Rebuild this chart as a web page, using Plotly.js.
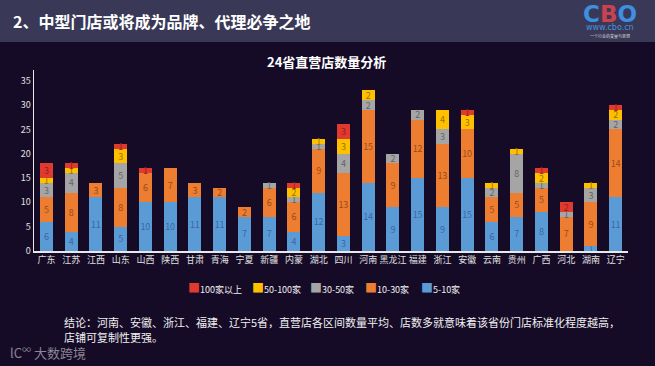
<!DOCTYPE html>
<html>
<head>
<meta charset="utf-8">
<script src="https://cdn.plot.ly/plotly-3.0.1.min.js"></script>
<style>
html,body{margin:0;padding:0;background:#160b27;}
#chart{width:655px;height:366px;}
</style>
</head>
<body>
<div id="chart"></div>
<script>
const provinces = ["广东","江苏","江西","山东","山西","陕西","甘肃","青海","宁夏","新疆","内蒙","湖北","四川","河南","黑龙江","福建","浙江","安徽","云南","贵州","广西","河北","湖南","辽宁"];
const s5to10   = [6,4,11,5,10,10,11,11,7,7,4,12,3,14,9,15,9,15,6,7,8,0,1,11];
const s10to30  = [5,8,3,8,6,7,3,2,2,6,6,9,13,15,9,12,13,10,5,5,5,7,9,14];
const s30to50  = [3,4,0,5,0,0,0,0,0,1,1,1,4,2,2,2,3,0,2,8,1,1,3,2];
const s50to100 = [1,1,0,3,0,0,0,0,0,0,2,1,3,2,0,0,4,3,1,1,2,0,1,2];
const s100plus = [3,1,0,1,1,0,0,0,0,0,1,0,3,0,0,0,0,1,0,0,1,2,0,1];
const seriesNames = ["5-10家","10-30家","30-50家","50-100家","100家以上"];

const seriesData = [s5to10, s10to30, s30to50, s50to100, s100plus];
const colors = ["#5b9bd5","#ed7d31","#a5a5a5","#ffc000","#e0392f"];
const labelColors = ["#3868a3","#9c4b17","#666666","#9a7400","#9a1d18"];

const traces = seriesData.map((vals, i) => ({
  type: "bar",
  name: seriesNames[i],
  x: provinces,
  y: vals,
  marker: {color: colors[i]},
  text: vals.map(v => v === 0 ? "" : String(v)),
  textposition: "inside",
  insidetextanchor: "middle",
  textangle: 0,
  constraintext: "none",
  textfont: {color: labelColors[i], size: 9, family: "Noto Sans CJK SC"},
  hoverinfo: "x+y+name",
  showlegend: false
}));

const px = p => (p - 34) / 594;
const py = p => (251 - p) / 181;

// legend entries (reference order: 100家以上 first)
const legendX = [186, 250, 308, 363, 419];
const legendAnn = [4,3,2,1,0].map((si, k) => ({
  text: "<span style='color:" + colors[si] + ";font-size:12px'>■</span>" + seriesNames[si],
  xref: "paper", yref: "paper", x: px(legendX[k]), y: py(287),
  xanchor: "left", yanchor: "middle", showarrow: false,
  font: {size: 9, color: "#f0f0f0", family: "Noto Sans CJK SC"}
}));

const layout = {
  width: 655, height: 366,
  margin: {l: 34, r: 27, t: 70, b: 115},
  paper_bgcolor: "#160b27",
  plot_bgcolor: "rgba(0,0,0,0)",
  barmode: "stack",
  bargap: 0.47,
  showlegend: false,
  font: {family: "Noto Sans CJK SC", color: "#e6e6e6"},
  uniformtext: {minsize: 9, mode: "show"},
  xaxis: {
    type: "category",
    showline: true, linecolor: "#e8e8e8", linewidth: 1.5,
    showgrid: false, zeroline: false, ticks: "",
    tickfont: {size: 9, color: "#e0e0e0"}
  },
  yaxis: {
    range: [0, 37.2],
    tickvals: [0,5,10,15,20,25,30,35],
    showline: true, linecolor: "#e8e8e8", linewidth: 1.5,
    showgrid: false, zeroline: false,
    ticks: "",
    tickfont: {size: 9, color: "#e0e0e0"}
  },
  shapes: [{
    type: "rect", xref: "paper", yref: "paper",
    x0: px(-2), x1: px(660), y0: py(42), y1: py(-2),
    fillcolor: "#3a3857", line: {width: 0}, layer: "below"
  }],
  annotations: [
    {text: "<b>2、中型门店或将成为品牌、代理必争之地</b>", xref: "paper", yref: "paper",
     x: px(11), y: py(21), xanchor: "left", yanchor: "middle", showarrow: false,
     font: {size: 16, color: "#ffffff", family: "Noto Sans CJK SC"}},
    {text: "<b>24省直营店数量分析</b>", xref: "paper", yref: "paper",
     x: px(326), y: py(62), xanchor: "center", yanchor: "middle", showarrow: false,
     font: {size: 13, color: "#ffffff"}},
    {text: "<b>C<span style='color:#c9434f'>B</span>O</b>", xref: "paper", yref: "paper",
     x: px(610), y: py(14), xanchor: "center", yanchor: "middle", showarrow: false,
     font: {size: 23, color: "#3f8fe0", family: "DejaVu Sans"}},
    {text: "www.cbo.cn", xref: "paper", yref: "paper",
     x: px(610), y: py(28), xanchor: "center", yanchor: "middle", showarrow: false,
     font: {size: 8, color: "#4a90d8", family: "DejaVu Sans"}},
    {text: "一个行业的变量与思想", xref: "paper", yref: "paper",
     x: px(610), y: py(36), xanchor: "center", yanchor: "middle", showarrow: false,
     font: {size: 4, color: "#dddddd"}},
    {text: "结论：河南、安徽、浙江、福建、辽宁5省，直营店各区间数量平均、店数多就意味着该省份门店标准化程度越高，", xref: "paper", yref: "paper",
     x: px(62), y: py(322), xanchor: "left", yanchor: "middle", showarrow: false,
     font: {size: 11, color: "#f0f0f0"}},
    {text: "店铺可复制性更强。", xref: "paper", yref: "paper",
     x: px(62), y: py(337), xanchor: "left", yanchor: "middle", showarrow: false,
     font: {size: 11, color: "#f0f0f0"}},
    {text: "lC<sup>∞</sup> 大数跨境", xref: "paper", yref: "paper",
     x: px(8), y: py(352), xanchor: "left", yanchor: "middle", showarrow: false,
     font: {size: 13, color: "#8a8694"}}
  ].concat(legendAnn)
};

Plotly.newPlot("chart", traces, layout, {displayModeBar: false, staticPlot: true});
</script>
</body>
</html>
